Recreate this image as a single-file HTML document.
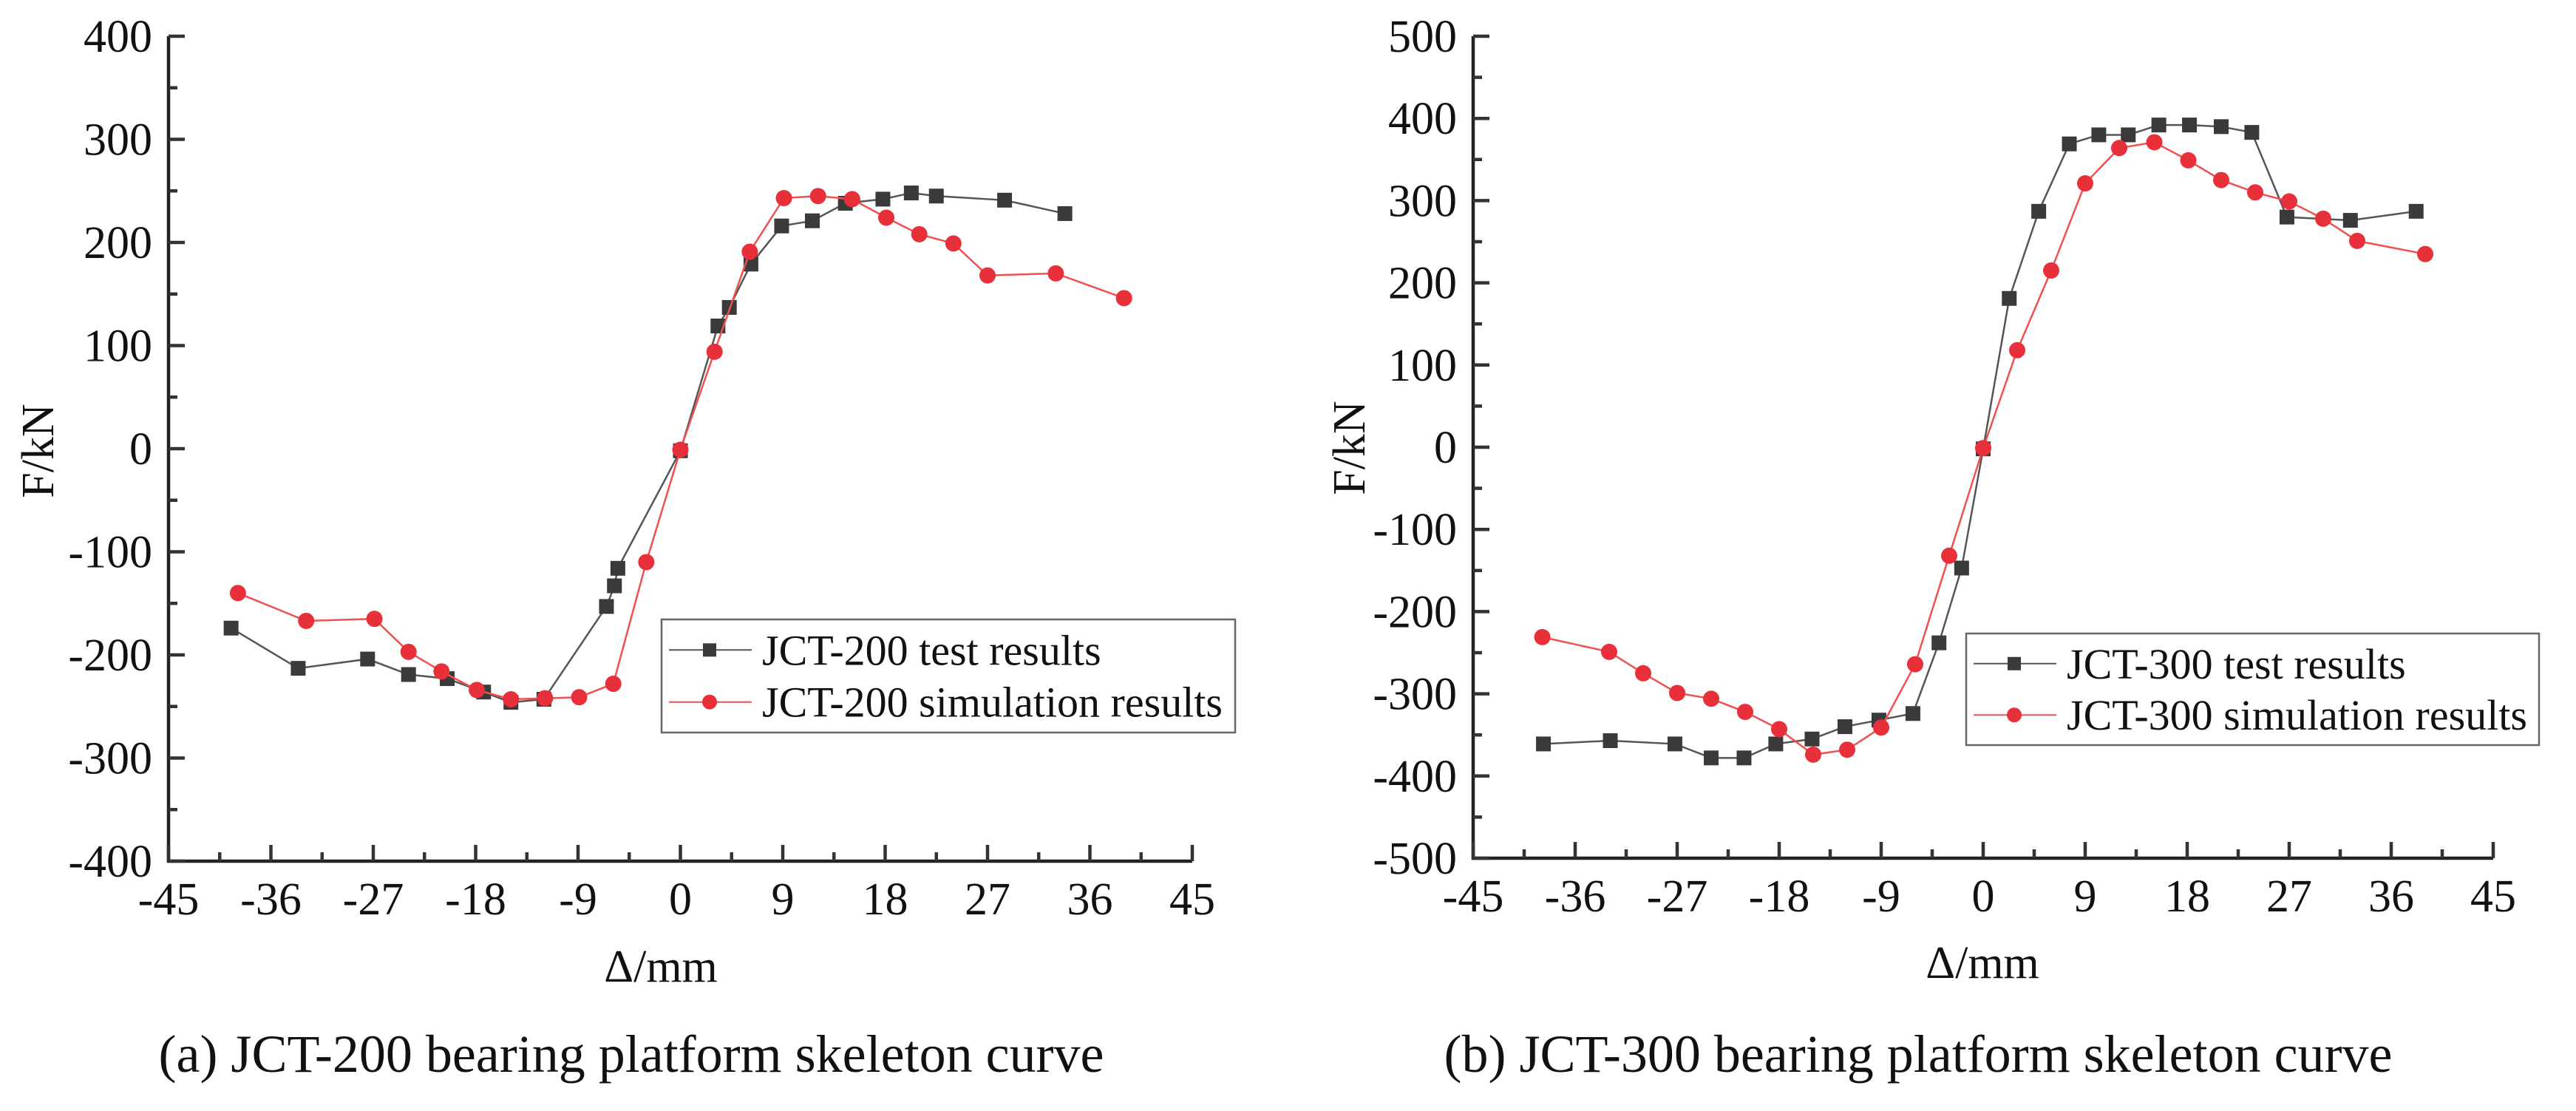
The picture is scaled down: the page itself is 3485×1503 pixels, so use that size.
<!DOCTYPE html>
<html><head><meta charset="utf-8"><style>
html,body{margin:0;padding:0;background:#fff;}
svg{display:block;font-family:"Liberation Serif",serif;}
</style></head><body>
<svg id="svg" width="3485" height="1503" viewBox="0 0 3485 1503" xmlns="http://www.w3.org/2000/svg">
<text x="854" y="1450" font-size="72" text-anchor="middle" fill="#111">(a) JCT-200 bearing platform skeleton curve</text>
<text x="2595" y="1450" font-size="72" text-anchor="middle" fill="#111">(b) JCT-300 bearing platform skeleton curve</text>
</svg>
<script>
const xTicks = [-45,-36,-27,-18,-9,0,9,18,27,36,45];
const yTicksA = [-400,-300,-200,-100,0,100,200,300,400];
const yTicksB = [-500,-400,-300,-200,-100,0,100,200,300,400,500];
const testAX = [-39.5,-33.6,-27.5,-23.9,-20.5,-17.3,-14.9,-12,-6.5,-5.8,-5.5,0,3.3,4.3,6.2,8.9,11.6,14.5,17.8,20.3,22.5,28.5,33.8];
const testAY = [-174,-213,-204,-219,-223,-236,-246,-243,-153,-133,-116,-2,119,137,179,216,221,238,242,248,245,241,228];
const simAX = [-38.9,-32.9,-26.9,-23.9,-21,-17.9,-14.9,-11.9,-8.9,-5.9,-3,0,3,6.1,9.1,12.1,15.1,18.1,21,24,27,33,39];
const simAY = [-140,-167,-165,-197,-216,-234,-243,-242,-241,-228,-110,-1,94,191,243,245,242,224,208,199,168,170,146];
const testBX = [-38.8,-32.9,-27.2,-24,-21.1,-18.3,-15.1,-12.2,-9.2,-6.2,-3.9,-1.9,0,2.3,4.9,7.6,10.2,12.8,15.5,18.2,21,23.7,26.8,32.4,38.2];
const testBY = [-361,-357,-361,-378,-378,-361,-355,-340,-332,-324,-238,-147,-2,181,287,369,380,380,392,392,390,383,280,276,287];
const simBX = [-38.9,-33,-30,-27,-24,-21,-18,-15,-12,-9,-6,-3,0,3,6,9,12,15.1,18.1,21,24,27,30,33,39];
const simBY = [-231,-249,-275,-299,-306,-322,-343,-374,-368,-341,-264,-132,-1,118,215,321,364,371,349,325,310,299,278,251,235];

const NS='http://www.w3.org/2000/svg';
const svg=document.getElementById('svg');
function mk(tag,attrs,parent){const e=document.createElementNS(NS,tag);for(const k in attrs)e.setAttribute(k,attrs[k]);(parent||svg).appendChild(e);return e;}

function chart(cfg){
  const g=mk('g',{});
  
  
  const sx=v=>cfg.x0+(v-(-45))/90*(cfg.x1-cfg.x0);
  const sy=v=>cfg.yb+(v-cfg.ymin)/(cfg.ymax-cfg.ymin)*(cfg.yt-cfg.yb);
  const ax=mk('path',{d:`M${cfg.x0} ${cfg.yt} V${cfg.yb} H${cfg.x1}`,stroke:'#222','stroke-width':4.5,fill:'none'},g);
  
  
  for(let i=0;i<xTicks.length;i++){
    const v=xTicks[i],X=sx(v);
    mk('line',{x1:X,x2:X,y1:cfg.yb,y2:cfg.yb-22,stroke:'#333','stroke-width':4.5},g);
    if(i<xTicks.length-1){const m=sx(v+4.5);mk('line',{x1:m,x2:m,y1:cfg.yb,y2:cfg.yb-12,stroke:'#333','stroke-width':4.5},g);}
    const t=mk('text',{x:X,y:cfg.yb+72,'font-size':62,'text-anchor':'middle',fill:'#111'},g);
    
    
    t.textContent=v;
  }
  const yt=cfg.yTicks;
  for(let i=0;i<yt.length;i++){
    const v=yt[i],Y=sy(v);
    mk('line',{x1:cfg.x0,x2:cfg.x0+22,y1:Y,y2:Y,stroke:'#333','stroke-width':4.5},g);
    if(i<yt.length-1){const m=sy(v+50);mk('line',{x1:cfg.x0,x2:cfg.x0+12,y1:m,y2:m,stroke:'#333','stroke-width':4.5},g);}
    const t=mk('text',{x:cfg.x0-22,y:Y+21,'font-size':62,'text-anchor':'end',fill:'#111'},g);
    
    
    t.textContent=v;
  }
  const xt=mk('text',{x:cfg.xtX,y:cfg.xtY,'font-size':62,'text-anchor':'middle',fill:'#111'},g);
  
  
  xt.textContent='Δ/mm';
  const ytt=mk('text',{x:0,y:0,'font-size':62,'text-anchor':'middle',fill:'#111',transform:`translate(${cfg.ytX},${cfg.ytY}) rotate(-90)`},g);
  
  
  ytt.textContent='F/kN';
  function series(xs,ys,color,lw,type,name){
    const sg=mk('g',{},g);
    
    
    const pts=xs.map((x,i)=>sx(x)+','+sy(ys[i])).join(' ');
    mk('polyline',{points:pts,fill:'none',stroke:color.line,'stroke-width':lw},sg);
    xs.forEach((x,i)=>{
      let m;
      if(type==='sq') m=mk('rect',{x:sx(x)-10,y:sy(ys[i])-10,width:20,height:20,fill:color.mk},sg);
      else m=mk('circle',{cx:sx(x),cy:sy(ys[i]),r:11,fill:color.mk},sg);
      
      
    });
  }
  const gray={line:'#555',mk:'#3a3a3a'}, red={line:'#f05050',mk:'#e8303a'};
  series(cfg.tx,cfg.ty,gray,2.5,'sq','test-series');
  series(cfg.smx,cfg.smy,red,2.5,'ci','simulation-series');
  const L=cfg.leg;
  const lg=mk('g',{},g);
  
  
  mk('rect',{x:L.x,y:L.y,width:L.w,height:L.h,fill:'#fff',stroke:'#666','stroke-width':2.5},lg);
  const rows=[{c:gray,t:'sq',label:cfg.label+' test results',dy:0.27},{c:red,t:'ci',label:cfg.label+' simulation results',dy:0.73}];
  rows.forEach(r=>{
    const Y=L.y+L.h*r.dy;
    const e=mk('g',{},lg);
    
    
    mk('line',{x1:L.x+10,x2:L.x+122,y1:Y,y2:Y,stroke:r.c.line,'stroke-width':2},e);
    if(r.t==='sq') mk('rect',{x:L.x+56,y:Y-9,width:18,height:18,fill:r.c.mk},e);
    else mk('circle',{cx:L.x+65,cy:Y,r:10,fill:r.c.mk},e);
    const t=mk('text',{x:L.x+136,y:Y+20,'font-size':58,fill:'#111'},e);
    t.textContent=r.label;
  });
}
chart({name:'chart-a',x0:228,x1:1613,yt:49,yb:1165,ymin:-400,ymax:400,yTicks:yTicksA,
  xtX:894,xtY:1328,ytX:72,ytY:610,tx:testAX,ty:testAY,smx:simAX,smy:simAY,label:'JCT-200',
  leg:{x:895,y:838,w:776,h:153}});
chart({name:'chart-b',x0:1993,x1:3373,yt:49,yb:1161,ymin:-500,ymax:500,yTicks:yTicksB,
  xtX:2682,xtY:1323,ytX:1846,ytY:606,tx:testBX,ty:testBY,smx:simBX,smy:simBY,label:'JCT-300',
  leg:{x:2660,y:857,w:775,h:151}});
</script>
</body></html>
